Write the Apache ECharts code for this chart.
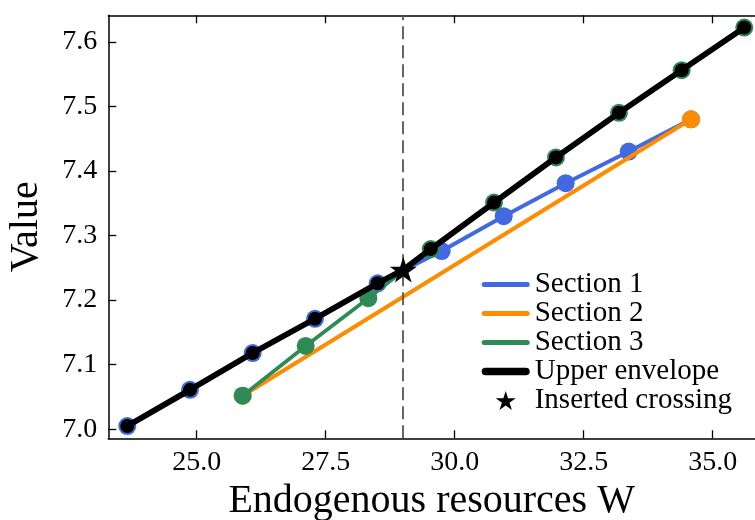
<!DOCTYPE html>
<html>
<head>
<meta charset="utf-8">
<script src="https://cdn.jsdelivr.net/npm/echarts@6/dist/echarts.min.js"></script>
<style>
html,body{margin:0;padding:0;background:#fff;}
#chart{width:755px;height:520px;}
</style>
</head>
<body>
<div id="chart"></div>
<script>
// ---- data ----
const sec1X = [23.655, 24.870, 26.085, 27.293, 28.508, 29.748, 30.950, 32.151, 33.372, 34.580];
const sec1Y = [7.005, 7.061, 7.118, 7.171, 7.226, 7.276, 7.330, 7.381, 7.430, 7.480];
const sec2X = [25.891, 34.580];
const sec2Y = [7.052, 7.480];
const sec3X = [25.891, 27.112, 28.326, 29.535, 30.762, 31.963, 33.184, 34.399, 35.612];
const sec3Y = [7.052, 7.129, 7.203, 7.279, 7.351, 7.421, 7.490, 7.556, 7.622];
const envX = [23.655, 24.870, 26.085, 27.293, 28.508, 29.004, 29.535, 30.762, 31.963, 33.184, 34.399, 35.612];
const envY = [7.005, 7.061, 7.118, 7.171, 7.226, 7.247, 7.279, 7.351, 7.421, 7.490, 7.556, 7.622];
const crossX = [29.004];
const crossY = [7.247];
const xTicks = [25.0, 27.5, 30.0, 32.5, 35.0];
const yTicks = [7.0, 7.1, 7.2, 7.3, 7.4, 7.5, 7.6];
const seriesNames = ['Section 1', 'Section 2', 'Section 3', 'Upper envelope', 'Inserted crossing'];
const xName = 'Endogenous resources W';
const yName = 'Value';

const FONT = 'Liberation Serif';
const C_BLUE = '#4169E1', C_ORANGE = '#FF8C00', C_GREEN = '#2E8B57', C_BLACK = '#000000';
const STAR = 'path://M0,-100 L22.45,-30.9 L95.1,-30.9 L36.3,11.8 L58.8,80.9 L0,38.2 L-58.8,80.9 L-36.3,11.8 L-95.1,-30.9 L-22.45,-30.9 Z';
const LINE_ICON = 'path://M2.5,0H45.5A2.5,2.5 0 0 1 45.5,5H2.5A2.5,2.5 0 0 1 2.5,0Z';
const LINE_ICON_BOLD = 'path://M3.75,0H44.25A3.75,3.75 0 0 1 44.25,7.5H3.75A3.75,3.75 0 0 1 3.75,0Z';

const pairs = (xs, ys) => xs.map((x, i) => [x, ys[i]]);
const envData = envX.map((x, i) => {
  const isCross = crossX.indexOf(x) >= 0;
  return isCross ? { value: [x, envY[i]], symbol: 'none' } : [x, envY[i]];
});

const X_MIN = 23.287, X_MAX = 35.82, Y_MIN = 6.986, Y_MAX = 7.641;

const chart = echarts.init(document.getElementById('chart'), null, { renderer: 'canvas' });
const option = {
  animation: false,
  backgroundColor: '#ffffff',
  textStyle: { fontFamily: FONT },
  grid: { left: 108.3, top: 15.3, right: 0, bottom: 81.7, containLabel: false, outerBoundsMode: 'none' },
  xAxis: [
    {
      type: 'value', position: 'bottom', min: X_MIN, max: X_MAX,
      name: xName, nameLocation: 'middle', nameGap: 30,
      nameTextStyle: { fontFamily: FONT, fontSize: 40, color: '#000' },
      axisLine: { show: true, onZero: false, lineStyle: { color: '#000', width: 1.5 } },
      axisTick: { show: true, inside: true, length: 8, lineStyle: { color: '#000', width: 1.3 }, customValues: xTicks },
      axisLabel: { show: true, margin: 10, fontFamily: FONT, fontSize: 28, color: '#000', customValues: xTicks, formatter: v => Number(v).toFixed(1) },
      splitLine: { show: false }
    },
    {
      type: 'value', position: 'top', min: X_MIN, max: X_MAX,
      axisLine: { show: true, onZero: false, lineStyle: { color: '#000', width: 1.5 } },
      axisTick: { show: true, inside: true, length: 8, lineStyle: { color: '#000', width: 1.3 }, customValues: xTicks },
      axisLabel: { show: false },
      splitLine: { show: false }
    }
  ],
  yAxis: [
    {
      type: 'value', position: 'left', min: Y_MIN, max: Y_MAX,
      name: yName, nameLocation: 'middle', nameGap: 62,
      nameTextStyle: { fontFamily: FONT, fontSize: 40, color: '#000' },
      axisLine: { show: true, onZero: false, lineStyle: { color: '#000', width: 1.5 } },
      axisTick: { show: true, inside: true, length: 8, lineStyle: { color: '#000', width: 1.3 }, customValues: yTicks },
      axisLabel: { show: true, margin: 11, fontFamily: FONT, fontSize: 28, color: '#000', customValues: yTicks, formatter: v => Number(v).toFixed(1) },
      splitLine: { show: false }
    }
  ],
  legend: {
    orient: 'vertical', left: 481.7, top: 270, padding: 0, itemGap: 0,
    itemWidth: 48, itemHeight: 19, selectedMode: false,
    symbolKeepAspect: true,
    itemStyle: { borderWidth: 0, opacity: 1 },
    textStyle: { fontFamily: FONT, fontSize: 29, color: '#000', lineHeight: 28 },
    data: [
      { name: seriesNames[0], icon: LINE_ICON },
      { name: seriesNames[1], icon: LINE_ICON },
      { name: seriesNames[2], icon: LINE_ICON },
      { name: seriesNames[3], icon: LINE_ICON_BOLD },
      { name: seriesNames[4], icon: STAR, itemStyle: { color: C_BLACK, opacity: 1 } }
    ]
  },
  series: [
    {
      name: seriesNames[0], type: 'line', z: 2, data: pairs(sec1X, sec1Y),
      symbol: 'circle', symbolSize: 18, showSymbol: true,
      lineStyle: { color: C_BLUE, width: 4 }, itemStyle: { color: C_BLUE }
    },
    {
      name: seriesNames[1], type: 'line', z: 3, data: pairs(sec2X, sec2Y),
      symbol: 'circle', symbolSize: 18, showSymbol: true,
      lineStyle: { color: C_ORANGE, width: 4 }, itemStyle: { color: C_ORANGE }
    },
    {
      name: seriesNames[2], type: 'line', z: 4, data: pairs(sec3X, sec3Y),
      symbol: 'circle', symbolSize: 18, showSymbol: true,
      lineStyle: { color: C_GREEN, width: 3.8 }, itemStyle: { color: C_GREEN }
    },
    {
      name: seriesNames[3], type: 'line', z: 5, data: envData,
      symbol: 'circle', symbolSize: 14, showSymbol: true,
      lineStyle: { color: C_BLACK, width: 5.8 }, itemStyle: { color: C_BLACK }
    },
    {
      name: seriesNames[4], type: 'scatter', z: 6, data: pairs(crossX, crossY),
      symbol: STAR, symbolSize: 27, symbolKeepAspect: true,
      itemStyle: { color: C_BLACK, opacity: 1 },
      markLine: {
        silent: true, symbol: 'none', label: { show: false },
        lineStyle: { color: '#555', width: 1.8, type: [13, 6] },
        data: [{ xAxis: crossX[0] }]
      }
    }
  ]
};
chart.setOption(option);
</script>
</body>
</html>
